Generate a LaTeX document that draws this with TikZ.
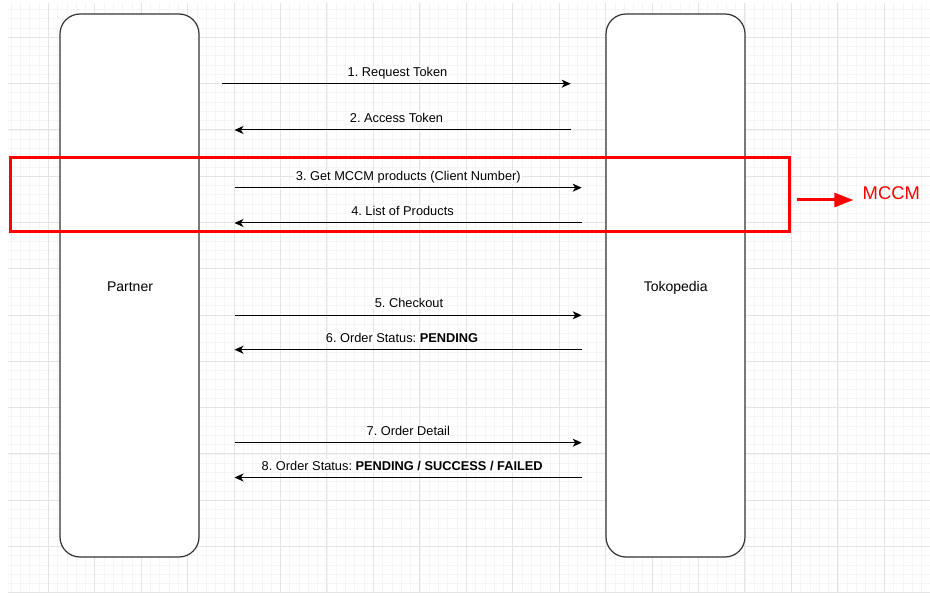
\documentclass[tikz,border=0pt]{standalone}
\usepackage{fontspec}
\setmainfont{Liberation Sans}
\usetikzlibrary{arrows.meta}
\frenchspacing
\definecolor{gridminor}{HTML}{F5F5F5}
\definecolor{gridmajor}{HTML}{E4E4E4}
\definecolor{boxline}{HTML}{333333}
\definecolor{mred}{HTML}{FF0000}
\tikzset{
  lifeline/.style={draw=boxline, line width=1.2pt, fill=white, rounded corners=20pt, minimum width=139pt, minimum height=543pt, inner sep=0pt},
  lifetext/.style={font=\fontsize{14}{16}\selectfont, anchor=base, inner sep=0pt},
  msg/.style={draw=black, line width=1pt, -{Stealth[length=9pt,width=8pt,inset=2.5pt]}},
  msglabel/.style={font=\fontsize{12.8}{15}\selectfont, anchor=base, fill=white, inner xsep=1.5pt, inner ysep=1.5pt},
  gmin/.style={draw=gridminor, line width=0.7pt},
  gmaj/.style={draw=gridmajor, line width=1pt},
}
\begin{document}
\begin{tikzpicture}[x=1pt, y=-1pt]
\useasboundingbox (0,0) rectangle (930,596);
\fill[white] (0,0) rectangle (930,596);
% grid
\begin{scope}
  \clip (8,3) rectangle (930,593);
  \foreach \i in {-5,...,100} {\draw[gmin] ({48.3+9.289*\i},3) -- ({48.3+9.289*\i},593);}
  \foreach \j in {-5,...,65} {\draw[gmin] (8,{37.3+9.257*\j}) -- (930,{37.3+9.257*\j});}
  \foreach \i in {-1,...,20} {\draw[gmaj] ({48.3+46.44*\i},3) -- ({48.3+46.44*\i},593);}
  \foreach \j in {-1,...,13} {\draw[gmaj] (8,{37.3+46.285*\j}) -- (930,{37.3+46.285*\j});}
\end{scope}
% lifelines
\node[lifeline] (partner) at (129.5,285.5) {};
\node[lifeline] (toko) at (675.5,285.5) {};
\node[lifetext] (partnertxt) at (130,291.7) {Partner};
\node[lifetext] (tokotxt) at (675.7,291.7) {Tokopedia};
% endpoints
\coordinate (a1s) at (222.3,83.7);  \coordinate (a1e) at (570.7,83.7);
\coordinate (a2s) at (570.7,130);   \coordinate (a2e) at (234.5,130);
\coordinate (a3s) at (234.5,187.7); \coordinate (a3e) at (581.7,187.7);
\coordinate (a4s) at (581.7,223);   \coordinate (a4e) at (234.5,223);
\coordinate (a5s) at (234.5,315.3); \coordinate (a5e) at (581.7,315.3);
\coordinate (a6s) at (581.7,349.7); \coordinate (a6e) at (234.5,349.7);
\coordinate (a7s) at (234.5,442.7); \coordinate (a7e) at (581.7,442.7);
\coordinate (a8s) at (581.7,477.5); \coordinate (a8e) at (234.5,477.5);
\draw[msg] (a1s) -- (a1e);
\draw[msg] (a2s) -- (a2e);
\draw[msg] (a3s) -- (a3e);
\draw[msg] (a4s) -- (a4e);
\draw[msg] (a5s) -- (a5e);
\draw[msg] (a6s) -- (a6e);
\draw[msg] (a7s) -- (a7e);
\draw[msg] (a8s) -- (a8e);
% labels
\node[msglabel] (l1) at (397.5,76.3) {1. Request Token};
\node[msglabel] (l2) at (396.5,122.6) {2. Access Token};
\node[msglabel] (l3) at (408.3,180.3) {3. Get MCCM products (Client Number)};
\node[msglabel] (l4) at (402.5,215.8) {4. List of Products};
\node[msglabel] (l5) at (409,307.8) {5. Checkout};
\node[msglabel] (l6) at (402,342.3) {6. Order Status: \textbf{PENDING}};
\node[msglabel] (l7) at (408.3,435.5) {7. Order Detail};
\node[msglabel] (l8) at (402.2,470.1) {8. Order Status: \textbf{PENDING / SUCCESS / FAILED}};
% MCCM highlight
\node[draw=mred, line width=3pt, minimum width=779pt, minimum height=74pt, inner sep=0pt] (mccmbox) at (399.5,195) {};
\node[text=mred, font=\fontsize{18.4}{20}\selectfont, anchor=base west, inner sep=0pt] (mccm) at (862.5,199.3) {MCCM};
\coordinate (redstart) at (796.7,200);
\coordinate (redend) at (853.3,200);
\draw[mred, line width=3pt, -{Triangle[length=19pt,width=14pt]}] (redstart) -- (redend);
\end{tikzpicture}
\end{document}
